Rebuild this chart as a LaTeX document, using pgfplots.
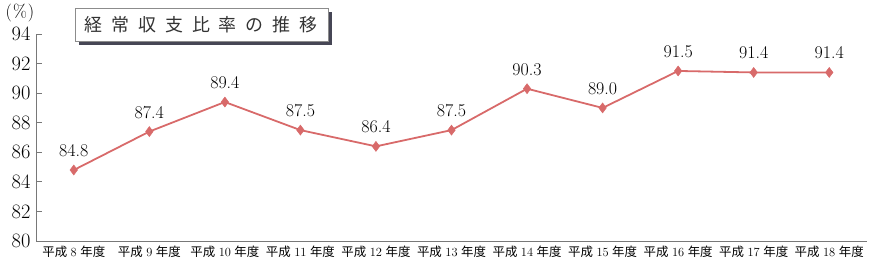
\documentclass[border=0pt]{standalone}
\usepackage{pgfplots}
\pgfplotsset{compat=1.18}
\usepackage{fontspec}
\newfontfamily\cjk{Noto Sans CJK JP}
\definecolor{lc}{RGB}{216,106,106}
\definecolor{ax}{RGB}{120,120,120}
\definecolor{sh}{RGB}{70,70,85}
\newcommand{\lab}[1]{{\cjk 平成}\hspace{3.5bp}#1\hspace{3.5bp}{\cjk 年度}}
\begin{document}
\begin{tikzpicture}[x=1bp,y=1bp]
\useasboundingbox (0,0) rectangle (877,275);
\begin{axis}[
  at={(36bp,34bp)}, anchor=south west,
  scale only axis, width=831bp, height=207bp,
  xmin=-0.5, xmax=10.5, ymin=80, ymax=94,
  axis x line*=bottom, axis y line*=left,
  axis line style={ax, line width=0.8pt},
  ytick={80,82,...,94},
  xtick={0,...,10},
  /pgf/number format/assume math mode=true,
  xticklabels={\lab{8},\lab{9},\lab{10},\lab{11},\lab{12},\lab{13},\lab{14},\lab{15},\lab{16},\lab{17},\lab{18}},
  major x tick style={draw=none},
  extra x ticks={0.5,1.5,...,10.5},
  extra x tick labels={},
  extra x tick style={major tick length=6bp, tick style={ax, line width=0.8pt, draw=ax}},
  tick align=inside,
  major tick length=6bp,
  ytick style={ax, line width=0.8pt},
  tick label style={font=\fontsize{20.5}{20.5}\selectfont},
  xticklabel style={font=\fontsize{12.5}{12.5}\selectfont, yshift=-1bp},
  yticklabel style={xshift=-2bp},
  clip=false,
  nodes near coords,
  every node near coord/.style={font=\fontsize{18}{18}\selectfont, black, inner sep=0pt, anchor=south, yshift=13bp},
  point meta=explicit symbolic,
]
\addplot[lc, line width=1.8pt, mark=diamond*, mark size=5bp, mark options={fill=lc, draw=lc, line width=0.5pt}]
coordinates {
(0,84.8)[84.8] (1,87.4)[87.4] (2,89.4)[89.4] (3,87.5)[87.5] (4,86.4)[86.4] (5,87.5)[87.5]
(6,90.3)[90.3] (7,89.0)[89.0] (8,91.5)[91.5] (9,91.4)[91.4] (10,91.4)[91.4]
};
\end{axis}
\node[anchor=center, font=\fontsize{18}{18}\selectfont] at (20,262) {(\hspace{1bp}\%\hspace{1bp})};
\fill[sh] (79,230) rectangle (332,263);
\draw[black!45, line width=0.8bp, fill=white] (75,234) rectangle (328,267);
\node[font=\cjk\fontsize{18}{18}\selectfont, text=black!80] at (201,250.5) {経\hspace{9bp}常\hspace{9bp}収\hspace{9bp}支\hspace{9bp}比\hspace{9bp}率\hspace{9bp}の\hspace{9bp}推\hspace{9bp}移};
\end{tikzpicture}
\end{document}
